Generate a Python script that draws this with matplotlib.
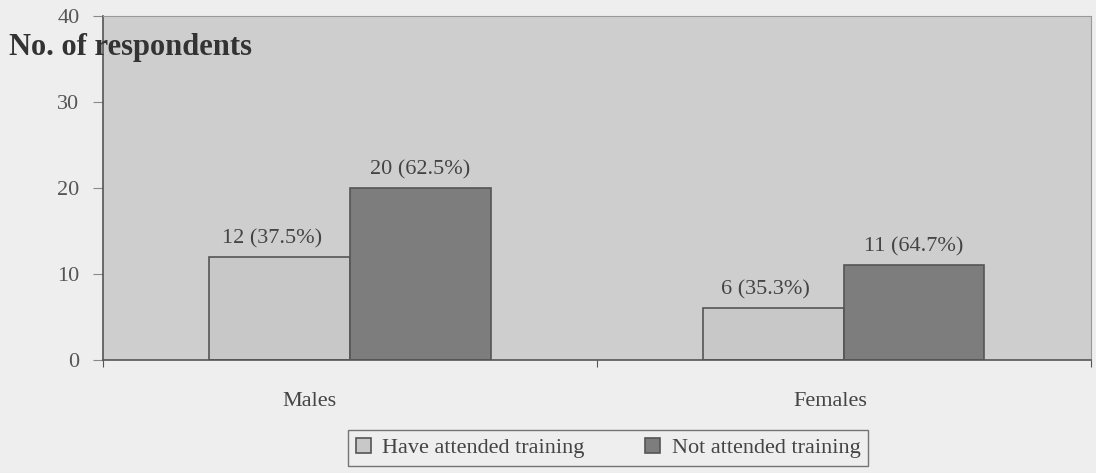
import matplotlib
matplotlib.use("Agg")
from matplotlib import pyplot as plt
from matplotlib.transforms import ScaledTranslation
import numpy as np

groups = ["Males", "Females"]
attended = [12, 6]
not_attended = [20, 11]
attended_labels = ["12 (37.5%)", "6 (35.3%)"]
not_attended_labels = ["20 (62.5%)", "11 (64.7%)"]

plt.rcParams["font.family"] = ["Liberation Serif", "DejaVu Serif"]

fig = plt.figure(figsize=(10.96, 4.73), dpi=100)
fig.patch.set_facecolor("#eeeeee")
ax = fig.add_axes([0.094, 0.239, 0.901, 0.727])
ax.set_facecolor("#cecece")

x = np.arange(len(groups))
w = 0.285
b1 = ax.bar(x - w / 2, attended, w, color="#c8c8c8", edgecolor="#555555", linewidth=1.2,
            label="Have attended training")
b2 = ax.bar(x + w / 2, not_attended, w, color="#7d7d7d", edgecolor="#555555", linewidth=1.2,
            label="Not attended training")

for bar, txt in zip(b1, attended_labels):
    ax.text(bar.get_x() + bar.get_width() / 2 - 0.015, bar.get_height() + 1.0, txt,
            ha="center", va="bottom", fontsize=16, color="#444444")
for bar, txt in zip(b2, not_attended_labels):
    ax.text(bar.get_x() + bar.get_width() / 2, bar.get_height() + 1.0, txt,
            ha="center", va="bottom", fontsize=16, color="#444444")

ax.set_xlim(-0.5, 1.5)
ax.set_ylim(0, 40)
ax.set_yticks([0, 10, 20, 30, 40])
ax.set_xticks([-0.5, 0.5, 1.5])
ax.set_xticklabels([])
ax.set_xticks(x, minor=True)
ax.set_xticklabels(groups, minor=True)
ax.tick_params(axis="x", which="minor", length=0, pad=23, labelsize=16, labelcolor="#444444")
ax.tick_params(axis="x", which="major", length=5, color="#555555")
ax.tick_params(axis="y", length=7, color="#888888", labelsize=16, labelcolor="#555555", pad=10)

# the scanned chart has the category names a little left of the bar groups
shifts = [-40, -13]
for lab, dx in zip(ax.get_xticklabels(minor=True), shifts):
    lab.set_transform(lab.get_transform() + ScaledTranslation(dx / 100, 0, fig.dpi_scale_trans))

for s in ["top", "right"]:
    ax.spines[s].set_color("#999999")
for s in ["left", "bottom"]:
    ax.spines[s].set_color("#555555")
    ax.spines[s].set_linewidth(1.2)

fig.text(0.008, 0.884, "No. of respondents", fontsize=22, fontweight="bold", color="#333333",
         va="baseline")

leg = fig.legend(loc="lower left", bbox_to_anchor=(0.3175, 0.015, 0.4745, 0.072), mode="expand",
                 ncol=2, fontsize=16, frameon=True, fancybox=False, edgecolor="#555555",
                 facecolor="#eeeeee", handlelength=0.7, handleheight=0.7, handletextpad=0.5,
                 borderpad=0.35, borderaxespad=0, labelcolor="#444444")
leg.get_frame().set_linewidth(1.0)

fig.savefig("out.png", dpi=100, facecolor=fig.get_facecolor())
